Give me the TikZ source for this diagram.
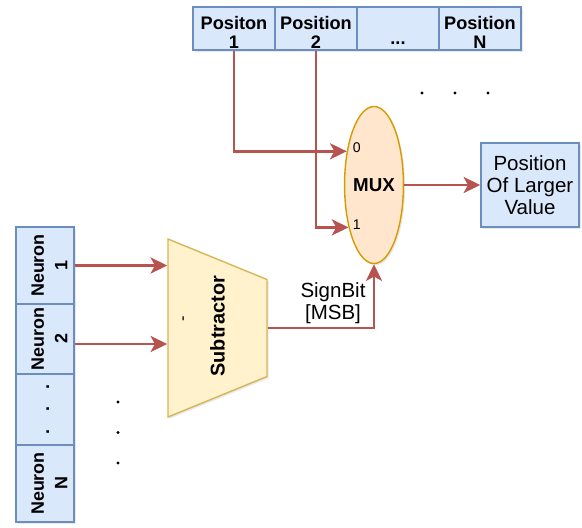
\documentclass[tikz,border=0pt]{standalone}
\usepackage{fontspec}
\setmainfont{Liberation Sans}
\usetikzlibrary{positioning, arrows.meta, shapes.geometric, shadows}
\definecolor{cellfill}{HTML}{DAE8FC}
\definecolor{celldraw}{HTML}{6C8EBF}
\definecolor{muxfill}{HTML}{FFE6CC}
\definecolor{muxdraw}{HTML}{D79B00}
\definecolor{subfill}{HTML}{FFF2CC}
\definecolor{subdraw}{HTML}{D6B656}
\definecolor{sigred}{HTML}{B85450}
\tikzset{
  shade/.style={drop shadow={opacity=0.18, shadow xshift=0.5mm, shadow yshift=-0.5mm}},
  cell/.style={rectangle, draw=celldraw, fill=cellfill, line width=1.2pt, inner sep=0pt,
    minimum width=2.46cm, minimum height=1.29cm, align=center,
    font=\fontsize{15.5}{16.5}\selectfont\bfseries},
  ncell/.style={cell, rotate=90, minimum height=1.74cm, font=\fontsize{15.3}{20}\selectfont\bfseries},
  sig/.style={draw=sigred, line width=2.4pt, -{Stealth[length=5mm, width=4.8mm, inset=1.3mm]}},
  dot/.style={circle, fill=black, inner sep=0pt, minimum size=1mm},
}
% primera linea un poco mas alta: baja el texto en la celda
\newcommand{\lo}[1][18pt]{\rule{0pt}{#1}}

\begin{document}
\begin{tikzpicture}[font=\fontsize{17.5}{18.5}\selectfont]
\useasboundingbox (0,0) rectangle (17.46,-15.81);

% ── Posiciones (arriba) ─────────────────────────────────────
\node[cell, shade] (pos1) at (7.02, -0.855) {\lo Positon\\1};
\node[cell, shade] (pos2) at (9.48, -0.855) {\lo Position\\2};
\node[cell, shade] (posdots) at (11.94, -0.855) {\lo[11pt]~\\...};
\node[cell, shade] (posN) at (14.40, -0.855) {\lo Position\\N};

\foreach \i in {0,1,2} {
  \node[dot] (dtop\i) at (12.66+0.99*\i, -2.79) {};
}

% ── MUX y salida ────────────────────────────────────────────
\node[ellipse, draw=muxdraw, fill=muxfill, line width=1.2pt, inner sep=0pt,
  minimum width=1.47cm, minimum height=4.71cm, shade,
  font=\fontsize{16}{18}\selectfont\bfseries] (mux) at (11.22, -5.55) {MUX};
\node[anchor=west, inner sep=0pt, font=\fontsize{12}{14}\selectfont] (mux0) at (10.58, -4.44) {0};
\node[anchor=west, inner sep=0pt, font=\fontsize{12}{14}\selectfont] (mux1) at (10.58, -6.75) {1};

\node[cell, shade, font=\fontsize{17.5}{18.5}\selectfont, minimum width=2.94cm,
  minimum height=2.52cm] (res) at (15.9, -5.55) {Position\\Of Larger\\Value};

% ── Neuronas (izquierda) ────────────────────────────────────
\node[ncell, shade, minimum width=2.31cm] (n1) at (1.35, -7.965) {\lo Neuron\\1};
\node[ncell, shade, minimum width=2.10cm] (n2) at (1.35, -10.17) {\lo Neuron\\2};
\node[ncell, shade, minimum width=2.13cm] (ndots) at (1.35, -12.285) {\lo[7pt].\quad.\quad.};
\node[ncell, shade, minimum width=2.31cm] (nN) at (1.35, -14.505) {\lo Neuron\\N};

\foreach \i in {0,1,2} {
  \node[dot] (dleft\i) at (3.54, -12.06-0.915*\i) {};
}

% ── Restador ────────────────────────────────────────────────
\node[trapezium, shape border rotate=180, rotate=90,
  trapezium left angle=67.75, trapezium right angle=67.75,
  text width=2.91cm, align=center, text height=0.43cm, text depth=0cm,
  inner xsep=0pt, inner ysep=1.27cm,
  draw=subdraw, fill=subfill, line width=1.2pt, shade,
  font=\fontsize{17}{19}\selectfont\bfseries] (sub) at (6.525, -9.84) {Subtractor};
\node[rotate=90, inner sep=0pt, font=\fontsize{14}{16}\selectfont] (subminus) at (5.55, -9.57) {-};

\node[align=center] (signbit) at (9.99, -9.09) {SignBit\\{[MSB]}};

% ── Conexiones ──────────────────────────────────────────────
\draw[sig] (pos1.south) |- (mux.129);
\draw[sig] (pos2.south) |- (mux.239);
\draw[sig] (mux.east) -- (res.west);
\draw[sig] (n1.south) -- (n1.south -| sub.north);
\draw[sig] ([yshift=-1.5mm]n2.south) -- ([yshift=-1.5mm]n2.south -| sub.north);
\draw[sig] (sub.south) -| (mux.south);

\end{tikzpicture}
\end{document}
